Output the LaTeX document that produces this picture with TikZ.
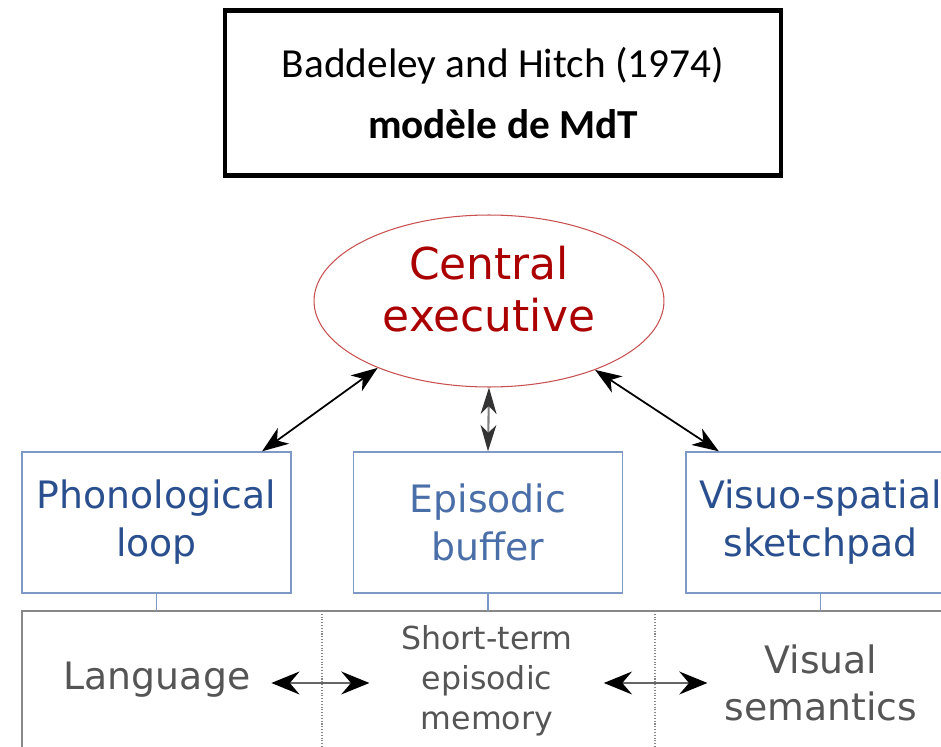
\documentclass[tikz,border=0pt]{standalone}
\usepackage{fontspec}
\setmainfont{DejaVu Sans}
\newfontfamily\titlefont{Carlito}
\usetikzlibrary{positioning,shapes.geometric,arrows.meta}

\definecolor{exred}{RGB}{170,0,0}
\definecolor{exborder}{RGB}{200,80,80}
\definecolor{darkblue}{RGB}{42,79,143}
\definecolor{lightblue}{RGB}{74,110,168}
\definecolor{boxblue}{RGB}{125,153,198}
\definecolor{txtgray}{RGB}{85,85,85}
\definecolor{linegray}{RGB}{136,136,136}

\tikzset{
  slavebox/.style={draw=boxblue, line width=0.8pt, minimum width=5.38cm, minimum height=2.82cm,
    align=center, font=\fontsize{21.5}{27.3}\selectfont},
  store/.style={text=txtgray, align=center},
  biarrow/.style={{Stealth[length=15pt,width=11pt,inset=4.5pt]}-{Stealth[length=15pt,width=11pt,inset=4.5pt]}, line width=1pt},
  midarrow/.style={{Stealth[length=15pt,width=9pt,inset=4.5pt,black!80]}-{Stealth[length=15pt,width=9pt,inset=4.5pt,black!80]},
    line width=1.2pt, draw=black!50},
  lowarrow/.style={{Stealth[length=16pt,width=13pt,inset=5.5pt,black]}-{Stealth[length=16pt,width=13pt,inset=5.5pt,black]},
    line width=1.5pt, draw=black!60},
}

\begin{document}
\begin{tikzpicture}[x=0.02cm, y=-0.02cm]
\useasboundingbox (0,0) rectangle (941,747);
\clip (0,0) rectangle (941,747);

\node[draw, line width=2.3pt, minimum width=11.14cm, minimum height=3.3cm, align=center,
  font=\titlefont\fontsize{23.5}{35}\selectfont] (title) at (503,93)
  {Baddeley and Hitch (1974)\\\textbf{modèle de MdT}};

\node[draw=exborder, line width=0.6pt, ellipse, minimum width=7cm, minimum height=3.44cm,
  inner sep=0pt, text depth=14pt, text=exred, align=center, font=\fontsize{25}{30}\selectfont] (ce) at (489,301)
  {Central\\executive};

\node[slavebox, text=darkblue] (pl) at (156.5,522.5) {Phonological\\loop};
\node[slavebox, text=lightblue] (eb) at (488,522.5) {Episodic\\buffer};
\node[slavebox, text=darkblue] (vs) at (820.5,522.5) {Visuo-spatial\\sketchpad};

\draw[biarrow] (pl.34.8) -- (ce.211.9);
\draw[midarrow] (eb.north) -- (ce.south);
\draw[biarrow] (vs.145.5) -- (ce.327.8);

% long-term store
\coordinate (lt) at (22,611);
\coordinate (ltr) at (960,611);
\coordinate (ltb) at (22,760);
\draw[linegray, line width=0.8pt] (ltb) -- (lt) -- (ltr);
\draw[linegray, densely dotted, line width=0.6pt] (322,611) -- (322,760);
\draw[linegray, densely dotted, line width=0.6pt] (655,611) -- (655,760);
\foreach \b in {pl,eb,vs}
  \draw[boxblue, line width=1pt] (\b.south) -- (\b.south |- lt);

\node[store, font=\fontsize{21.5}{27}\selectfont] (lang) at (157,680) {Language};
\node[store, font=\fontsize{18}{22.8}\selectfont] (stm) at (487,681) {Short-term\\episodic\\memory};
\node[store, font=\fontsize{21.5}{26.8}\selectfont] (vis) at (821,683) {Visual\\semantics};

\draw[lowarrow, shorten <=8.5pt, shorten >=14.6pt] ([yshift=-1.7pt]lang.east) -- ([yshift=-1.7pt]lang.east -| stm.west);
\draw[lowarrow, shorten <=14.2pt, shorten >=6.3pt] ([yshift=-1.7pt]stm.east |- lang.east) -- ([yshift=-1.7pt]vis.west |- lang.east);
\end{tikzpicture}
\end{document}
